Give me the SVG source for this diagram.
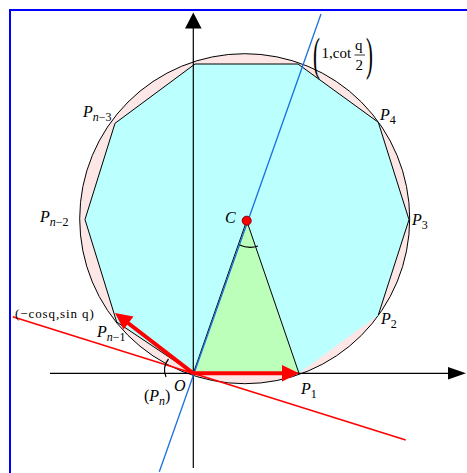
<svg xmlns="http://www.w3.org/2000/svg" width="467" height="473" viewBox="0 0 467 473">
<style>
.lab{font-family:"Liberation Serif",serif;font-style:italic;font-size:16px;fill:#000}
.sub{font-size:12px}
.n{font-style:italic}
.d{font-style:normal}
.up{font-family:"Liberation Serif",serif;fill:#000}
.ax{stroke:#000;stroke-width:1.2;fill:none}
</style>
<rect x="0" y="0" width="467" height="473" fill="#fff"/>
<rect x="10" y="10" width="470" height="480" fill="none" stroke="#0000ff" stroke-width="2"/>
<g id="circle">
<circle cx="244.7" cy="218.7" r="165" fill="#fde6e6" stroke="#000" stroke-width="1"/>
</g>
<g id="polygon">
<polygon points="193.3,373.3 299,373.3 378.3,315 409,219.7 378.3,122.3 298,64 195,64 115,123.3 85,219.5 116.7,322" fill="#bbffff"/>
<polyline points="378.3,315 409,219.7 378.3,122.3 298,64 195,64 115,123.3 85,219.5 116.7,322 193.3,373.3" fill="none" stroke="#000" stroke-width="1"/>
</g>
<g id="triangle">
<polygon points="193.3,373.3 246.7,220.7 299,373.3" fill="#bbffbb" stroke="#000" stroke-width="1"/>
</g>
<g id="connectors">
<line class="ax" x1="50" y1="373.3" x2="448" y2="373.3"/>
<path d="M448,367 L466,373.3 L448,379.6 Z" fill="#000"/>
<line class="ax" x1="193.3" y1="468" x2="193.3" y2="28"/>
<path d="M185,28.5 L193.3,12.5 L201.6,28.5 Z" fill="#000"/>
<line x1="159.3" y1="471.7" x2="321" y2="14" stroke="#1a6fe0" stroke-width="1.3"/>
<line x1="12.7" y1="316.7" x2="405.7" y2="440" stroke="#ff0000" stroke-width="1.5"/>
<line x1="193.3" y1="373.3" x2="284" y2="373.3" stroke="#ff0000" stroke-width="4"/>
<path d="M282,365 L299,373.3 L282,381.6 Z" fill="#ff0000"/>
<line x1="193.3" y1="373.3" x2="128" y2="323" stroke="#ff0000" stroke-width="4"/>
<path d="M115,313 L133.5,316.5 L123.5,329.5 Z" fill="#ff0000"/>
<path d="M239.5,245 Q249,249 258,246" fill="none" stroke="#000" stroke-width="1.2"/>
<path d="M168.5,359 Q162,367 166,377" fill="none" stroke="#000" stroke-width="1.2"/>
</g>
<g id="center">
<circle cx="246.7" cy="220.7" r="4.5" fill="#ff0000" stroke="#800000" stroke-width="1"/>
<text class="lab" x="225" y="223">C</text>
</g>
<g id="labels">
<text class="lab" x="83" y="117">P<tspan class="sub" dy="4">n<tspan class="d">−3</tspan></tspan></text>
<text class="lab" x="40" y="222">P<tspan class="sub" dy="4">n<tspan class="d">−2</tspan></tspan></text>
<text class="lab" x="97" y="337">P<tspan class="sub" dy="4">n<tspan class="d">−1</tspan></tspan></text>
<text class="lab" x="380" y="120">P<tspan class="sub d" dy="4">4</tspan></text>
<text class="lab" x="412" y="225">P<tspan class="sub d" dy="4">3</tspan></text>
<text class="lab" x="381" y="324">P<tspan class="sub d" dy="4">2</tspan></text>
<text class="lab" x="301" y="394">P<tspan class="sub d" dy="4">1</tspan></text>
<text class="lab" x="174" y="391">O</text>
<text class="up" x="144" y="401" font-size="16">(<tspan font-style="italic">P</tspan><tspan font-style="italic" font-size="12" dy="4">n</tspan><tspan dy="-4">)</tspan></text>
<text class="up" x="15" y="318" font-size="13" letter-spacing="0.9">(−cosq,sin q)</text>
<text class="up" x="313" y="70" font-size="46" transform="translate(313,70) scale(0.45,1) translate(-313,-70)">(</text>
<text class="up" x="321.5" y="58" font-size="15">1,cot</text>
<text class="up" x="355" y="50" font-size="15">q</text>
<line x1="354.5" y1="55" x2="365" y2="55" stroke="#000" stroke-width="0.8"/>
<text class="up" x="355.5" y="70" font-size="15">2</text>
<text class="up" x="366" y="70" font-size="46" transform="translate(366,70) scale(0.45,1) translate(-366,-70)">)</text>
</g>
</svg>
